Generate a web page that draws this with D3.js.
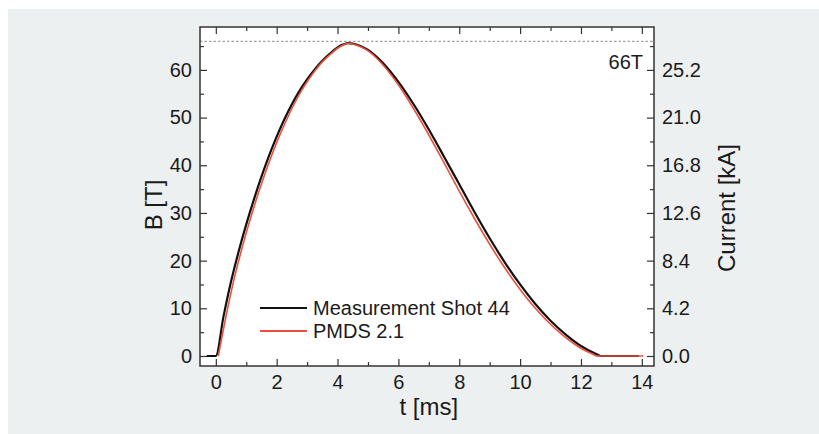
<!DOCTYPE html>
<html>
<head>
<meta charset="utf-8">
<script src="https://cdn.jsdelivr.net/npm/d3@7"></script>
<style>
  html, body { margin: 0; padding: 0; background: #ffffff; }
  svg { display: block; }
  text { font-family: "Liberation Sans", Arial, Helvetica, sans-serif; fill: #1a1a1a; }
</style>
</head>
<body>
<svg id="chart" width="819" height="434"></svg>
<script>
// Measured pulse (shot 44): time in ms, field in tesla
const measTime = [-0.3, 0, 0.25, 0.5, 0.75, 1.0, 1.25, 1.5, 1.75, 2.0, 2.25, 2.5, 2.75, 3.0, 3.25, 3.5, 3.75, 4.0, 4.2, 4.35, 4.5, 4.75,
                  5.0, 5.5, 6.0, 6.5, 7.0, 7.5, 8.0, 8.5, 9.0, 9.5, 10.0, 10.5, 11.0, 11.5, 12.0, 12.5, 12.65, 13.9];
const measField = [0, 0, 8.2, 15.6, 21.9, 27.6, 32.8, 37.6, 42.0, 46.0, 49.6, 52.8, 55.6, 58.0, 60.1, 61.9, 63.4, 64.7, 65.35, 65.6, 65.5, 65.0,
                   64.2, 61.4, 57.5, 52.8, 47.5, 41.8, 36.0, 30.2, 24.7, 19.6, 15.0, 10.9, 7.4, 4.5, 2.1, 0.4, 0, 0];

// PMDS 2.1 simulation
const simTime = [0.08, 0.33, 0.58, 0.83, 1.08, 1.33, 1.58, 1.83, 2.08, 2.33, 2.57, 2.81, 3.05, 3.29, 3.53, 3.77, 4.01, 4.2, 4.35, 4.5, 4.74,
                 4.98, 5.46, 5.93, 6.41, 6.9, 7.39, 7.88, 8.38, 8.88, 9.38, 9.88, 10.38, 10.88, 11.38, 11.88, 12.38, 12.52, 14.05];
const simField = [0, 8.2, 15.6, 21.9, 27.6, 32.8, 37.6, 42.0, 46.0, 49.6, 52.8, 55.6, 58.0, 60.1, 61.9, 63.3, 64.6, 65.3, 65.6, 65.45, 64.9,
                  64.1, 61.3, 57.5, 52.8, 47.5, 41.8, 36.0, 30.2, 24.7, 19.6, 15.0, 10.9, 7.4, 4.5, 2.1, 0.4, 0, 0];

const seriesNames = ["Measurement Shot 44", "PMDS 2.1"];
const seriesColors = ["#111111", "#ee4f3c"];

const xTicks = [0, 2, 4, 6, 8, 10, 12, 14];
const yTicks = [0, 10, 20, 30, 40, 50, 60];
const currentTicks = [0, 4.2, 8.4, 12.6, 16.8, 21.0, 25.2];
const kAPerTesla = 0.42;
const peakLine = 66;

const svg = d3.select("#chart");
const W = 819, H = 434;
const plotL = 200, plotR = 654, plotT = 27, plotB = 366;
const tickFont = 20, titleFont = 24;

// panel background
svg.append("rect").attr("x", 8).attr("y", 9).attr("width", W - 8).attr("height", H - 9).attr("fill", "#edf0f0");
svg.append("rect").attr("x", plotL).attr("y", plotT).attr("width", plotR - plotL).attr("height", plotB - plotT).attr("fill", "#ffffff");

const x = d3.scaleLinear().domain([-0.52, 14.4]).range([plotL, plotR]);
const y = d3.scaleLinear().domain([-2.1, 69.0]).range([plotB, plotT]);
const yCur = d3.scaleLinear().domain([y.domain()[0] * kAPerTesla, y.domain()[1] * kAPerTesla]).range([plotB, plotT]);

const tickColor = "#333333";
function styleAxis(g) {
  g.select(".domain").remove();
  g.selectAll("line").attr("stroke", tickColor).attr("stroke-width", 1.2);
  g.selectAll("text").attr("font-size", tickFont).attr("fill", "#1a1a1a");
}

const xMinor = d3.range(1, 14, 2);
const yMinor = d3.range(5, 66, 10);

// bottom axis (inward ticks)
svg.append("g").attr("transform", `translate(0,${plotB})`)
  .call(d3.axisBottom(x).tickValues(xTicks).tickSizeInner(-7).tickSizeOuter(0).tickPadding(9).tickFormat(d3.format("d")))
  .call(styleAxis);
svg.append("g").attr("transform", `translate(0,${plotB})`)
  .call(d3.axisBottom(x).tickValues(xMinor).tickSizeInner(-4).tickSizeOuter(0).tickFormat(""))
  .call(styleAxis);
// top axis
svg.append("g").attr("transform", `translate(0,${plotT})`)
  .call(d3.axisTop(x).tickValues(xTicks).tickSizeInner(-7).tickSizeOuter(0).tickFormat(""))
  .call(styleAxis);
svg.append("g").attr("transform", `translate(0,${plotT})`)
  .call(d3.axisTop(x).tickValues(xMinor).tickSizeInner(-4).tickSizeOuter(0).tickFormat(""))
  .call(styleAxis);
// left axis
svg.append("g").attr("transform", `translate(${plotL},0)`)
  .call(d3.axisLeft(y).tickValues(yTicks).tickSizeInner(-7).tickSizeOuter(0).tickPadding(8).tickFormat(d3.format("d")))
  .call(styleAxis);
svg.append("g").attr("transform", `translate(${plotL},0)`)
  .call(d3.axisLeft(y).tickValues(yMinor).tickSizeInner(-4).tickSizeOuter(0).tickFormat(""))
  .call(styleAxis);
// right axis: coil current
svg.append("g").attr("transform", `translate(${plotR},0)`)
  .call(d3.axisRight(yCur).tickValues(currentTicks).tickSizeInner(-7).tickSizeOuter(0).tickPadding(8).tickFormat(d3.format(".1f")))
  .call(styleAxis);
svg.append("g").attr("transform", `translate(${plotR},0)`)
  .call(d3.axisRight(yCur).tickValues(yMinor.map(v => v * kAPerTesla)).tickSizeInner(-4).tickSizeOuter(0).tickFormat(""))
  .call(styleAxis);

// 66 T reference line
svg.append("line")
  .attr("x1", plotL).attr("x2", plotR)
  .attr("y1", y(peakLine)).attr("y2", y(peakLine))
  .attr("stroke", "#888888").attr("stroke-width", 1).attr("stroke-dasharray", "2.5,2");
svg.append("text").attr("x", plotR - 11).attr("y", y(peakLine) + 28)
  .attr("text-anchor", "end").attr("font-size", tickFont).text(peakLine + "T");

// curves
svg.append("clipPath").attr("id", "plotclip")
  .append("rect").attr("x", plotL).attr("y", plotT).attr("width", plotR - plotL).attr("height", plotB - plotT);

const line = d3.line().x(d => x(d[0])).y(d => y(d[1])).curve(d3.curveMonotoneX);
const measData = measTime.map((t, i) => [t, measField[i]]);
const simData = simTime.map((t, i) => [t, simField[i]]);

const plot = svg.append("g").attr("clip-path", "url(#plotclip)");
plot.append("path").datum(measData).attr("d", line)
  .attr("fill", "none").attr("stroke", seriesColors[0]).attr("stroke-width", 2.2);
plot.append("path").datum(simData).attr("d", line)
  .attr("fill", "none").attr("stroke", seriesColors[1]).attr("stroke-width", 1.6);

// frame
svg.append("rect").attr("x", plotL).attr("y", plotT).attr("width", plotR - plotL).attr("height", plotB - plotT)
  .attr("fill", "none").attr("stroke", tickColor).attr("stroke-width", 1.5);

// legend
const legend = svg.append("g").attr("transform", "translate(260,308)");
seriesNames.forEach((name, i) => {
  const g = legend.append("g").attr("transform", `translate(0,${i * 23})`);
  g.append("line").attr("x1", 0).attr("x2", 47).attr("y1", 0).attr("y2", 0)
    .attr("stroke", seriesColors[i]).attr("stroke-width", i === 0 ? 2.2 : 1.8);
  g.append("text").attr("x", 53).attr("y", 7).attr("font-size", tickFont).text(name);
});

// axis titles
svg.append("text").attr("x", (x(0) + x(14)) / 2).attr("y", 415)
  .attr("text-anchor", "middle").attr("font-size", titleFont).text("t [ms]");
svg.append("text").attr("transform", "translate(162,205) rotate(-90)")
  .attr("text-anchor", "middle").attr("font-size", titleFont).text("B [T]");
svg.append("text").attr("transform", "translate(735,208) rotate(-90)")
  .attr("text-anchor", "middle").attr("font-size", titleFont).text("Current [kA]");
</script>
</body>
</html>
